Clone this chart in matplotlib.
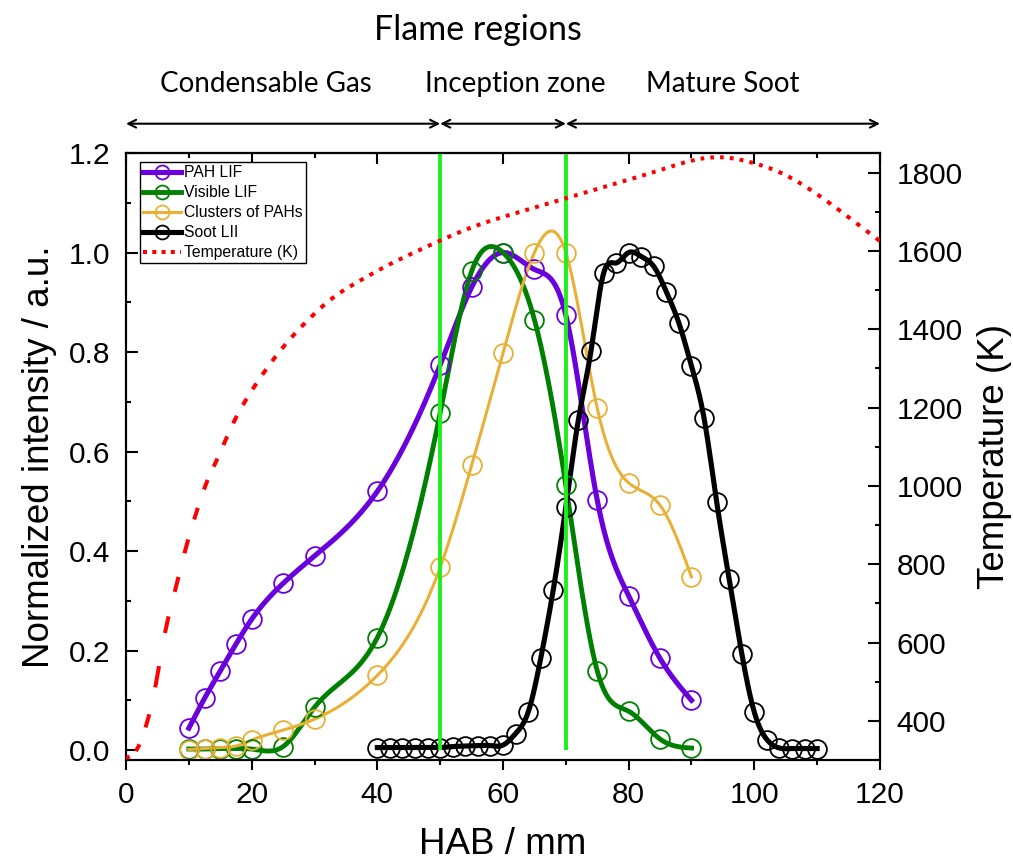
import matplotlib
matplotlib.use('Agg')
import matplotlib.pyplot as plt
import numpy as np
from matplotlib.lines import Line2D
from matplotlib.ticker import MultipleLocator

plt.rcParams['font.family'] = ['Liberation Sans', 'DejaVu Sans']

# data (HAB in mm, intensities normalised)
hab_pah = [10, 12.5, 15, 17.5, 20, 25, 30, 40, 50, 55, 60, 65, 70, 75, 80, 85, 90]
pah_lif = [0.044, 0.104, 0.159, 0.213, 0.263, 0.335, 0.39, 0.52, 0.774, 0.93, 1.0,
           0.966, 0.874, 0.502, 0.31, 0.184, 0.1]
vis_lif = [0.002, 0.002, 0.003, 0.003, 0.002, 0.007, 0.086, 0.226, 0.678, 0.962, 1.0,
           0.865, 0.532, 0.159, 0.078, 0.022, 0.004]
clusters = [0.001, 0.003, 0.005, 0.008, 0.02, 0.04, 0.062, 0.15, 0.367, 0.572, 0.798,
            1.0, 1.0, 0.687, 0.537, 0.492, 0.348]

hab_lii = [40, 42, 44, 46, 48, 50, 52, 54, 56, 58, 60, 62, 64, 66, 68, 70, 72, 74, 76,
           78, 80, 82, 84, 86, 88, 90, 92, 94, 96, 98, 100, 102, 104, 106, 108, 110]
soot_lii = [0.005, 0.005, 0.005, 0.005, 0.005, 0.005, 0.007, 0.008, 0.009, 0.009, 0.01,
            0.033, 0.076, 0.184, 0.322, 0.489, 0.664, 0.802, 0.958, 0.979, 1.0, 0.992,
            0.972, 0.921, 0.858, 0.772, 0.667, 0.499, 0.343, 0.194, 0.076, 0.021,
            0.004, 0.003, 0.003, 0.003]

hab_temp = [0, 2, 3, 4.5, 6, 8, 9.5, 11, 12.5, 14.5, 17, 20, 23, 26, 29, 32.5, 37, 42,
            46, 50.5, 55, 61.5, 69.5, 77.5, 85.5, 91, 95, 99.5, 104, 109.5, 115, 120]
temp = [305, 335, 378, 473, 608, 745, 840, 922, 995, 1068, 1158, 1243, 1313, 1373,
        1424, 1475, 1522, 1566, 1597, 1630, 1660, 1694, 1732, 1770, 1809, 1834, 1839,
        1826, 1801, 1750, 1686, 1625]

regions = ['Condensable Gas', 'Inception zone', 'Mature Soot']
region_edges = [0, 50, 70, 120]
region_text_x = [22.3, 62, 95]


def spline(x, y, xs):
    # natural cubic spline, like the spline connection in the original plot
    x = np.asarray(x, float)
    y = np.asarray(y, float)
    n = len(x)
    h = np.diff(x)
    A = np.zeros((n, n))
    r = np.zeros(n)
    A[0, 0] = A[-1, -1] = 1
    for i in range(1, n - 1):
        A[i, i - 1] = h[i - 1]
        A[i, i] = 2 * (h[i - 1] + h[i])
        A[i, i + 1] = h[i]
        r[i] = 3 * ((y[i + 1] - y[i]) / h[i] - (y[i] - y[i - 1]) / h[i - 1])
    c = np.linalg.solve(A, r)
    b = (y[1:] - y[:-1]) / h - h * (2 * c[:-1] + c[1:]) / 3
    d = (c[1:] - c[:-1]) / (3 * h)
    idx = np.clip(np.searchsorted(x, xs) - 1, 0, n - 2)
    t = xs - x[idx]
    return y[idx] + b[idx] * t + c[idx] * t ** 2 + d[idx] * t ** 3


fig = plt.figure(figsize=(10.13, 8.65), dpi=100)
ax = fig.add_axes([0.1244, 0.1214, 0.7443, 0.7017])

series = [
    (hab_pah, pah_lif, 'PAH LIF', '#6A00DC', 3.7),
    (hab_pah, vis_lif, 'Visible LIF', '#008000', 3.5),
    (hab_pah, clusters, 'Clusters of PAHs', '#E8B035', 2.2),
    (hab_lii, soot_lii, 'Soot LII', 'black', 3.7),
]
handles = []
for x, y, name, col, lw in series:
    xs = np.linspace(x[0], x[-1], 600)
    ax.plot(xs, spline(x, y, xs), color=col, lw=lw, zorder=3)
    ax.plot(x, y, 'o', ms=13.5, mfc='none', mec=col, mew=1.3, zorder=4)
    handles.append(Line2D([], [], color=col, lw=lw, marker='o', ms=10, mfc='none',
                          mec=col, mew=1.3))

ax.vlines([50, 70], 0, 1.2, color='#1EF01E', lw=2.8, zorder=6)

ax.set_xlim(0, 120)
ax.set_ylim(-0.02, 1.2)
ax.xaxis.set_major_locator(MultipleLocator(20))
ax.xaxis.set_minor_locator(MultipleLocator(10))
ax.yaxis.set_major_locator(MultipleLocator(0.2))
ax.yaxis.set_minor_locator(MultipleLocator(0.1))
ax.yaxis.set_major_formatter(lambda v, p: f'{v:.1f}')
ax.tick_params(axis='y', which='major', direction='in', length=8.6, width=1.5,
               labelsize=21.5, pad=11)
ax.tick_params(axis='y', which='minor', direction='in', length=3.6, width=1.5)
ax.tick_params(axis='x', which='major', direction='out', length=7, width=1.5,
               labelsize=21.5, pad=8, top=False)
ax.tick_params(axis='x', which='minor', direction='out', length=3.6, width=1.5, top=False)
for s in ax.spines.values():
    s.set_linewidth(1.5)
ax.set_xlabel('HAB / mm', fontsize=26.5, labelpad=13)
ax.set_ylabel('Normalized intensity / a.u.', fontsize=26.5, labelpad=9)

top = ax.secondary_xaxis('top')
top.xaxis.set_major_locator(MultipleLocator(20))
top.xaxis.set_minor_locator(MultipleLocator(10))
top.tick_params(axis='x', which='major', direction='in', length=8, width=1.5, labeltop=False)
top.tick_params(axis='x', which='minor', direction='in', length=3.6, width=1.5)
top.spines['top'].set_linewidth(1.5)

# temperature on the right axis, dashes spaced evenly in x as in the original
ax2 = ax.twinx()
xt = np.linspace(0, 120, 4801)
tt = spline(hab_temp, temp, xt)
period, dash = 1.55, 0.6
seg_x, seg_t = [], []
k = 0
while k * period < 120:
    m = (xt >= k * period) & (xt <= k * period + dash)
    seg_x += list(xt[m]) + [np.nan]
    seg_t += list(tt[m]) + [np.nan]
    k += 1
ax2.plot(seg_x, seg_t, color='red', lw=2.9, solid_capstyle='butt', zorder=3)
handles.append(Line2D([], [], color='red', lw=2.9, ls=(0, (1, 1.3))))

ax2.set_ylim(300, 1850)
ax2.yaxis.set_minor_locator(MultipleLocator(100))
ax2.set_yticks(range(400, 1801, 200))
ax2.tick_params(axis='y', which='major', direction='in', length=8.6, width=1.5,
                labelsize=21.5, pad=12)
ax2.tick_params(axis='y', which='minor', direction='in', length=3.6, width=1.5)
for s in ax2.spines.values():
    s.set_linewidth(1.5)
ax2.set_ylabel('Temperature (K)', fontsize=26.5, labelpad=10)

labels = [s[2] for s in series] + ['Temperature (K)']
leg = ax2.legend(handles, labels, loc='upper left', bbox_to_anchor=(0.0186, 0.985),
                 borderaxespad=0, fontsize=11.3, frameon=True, fancybox=False,
                 edgecolor='black', framealpha=1, handlelength=2.4, handletextpad=0.2,
                 labelspacing=0.32, borderpad=0.2)
leg.get_frame().set_linewidth(1.0)

# flame regions above the plot
fig.text(56 / 120 * 0.7443 + 0.1244, 0.965, 'Flame regions', fontsize=24.5,
         family='Lato', ha='center', va='center')
for name, xc in zip(regions, region_text_x):
    ax.annotate(name, xy=(xc, 0.903), xycoords=('data', 'figure fraction'),
                fontsize=20, family='Lato', ha='center', va='center',
                annotation_clip=False)
for a, b in zip(region_edges[:-1], region_edges[1:]):
    ax.annotate('', xy=(b, 0.857), xytext=(a, 0.857),
                xycoords=('data', 'figure fraction'),
                textcoords=('data', 'figure fraction'),
                arrowprops=dict(arrowstyle='<->', lw=1.5, color='black',
                                shrinkA=0, shrinkB=0, mutation_scale=14),
                annotation_clip=False)

fig.savefig('out.png', dpi=100)
